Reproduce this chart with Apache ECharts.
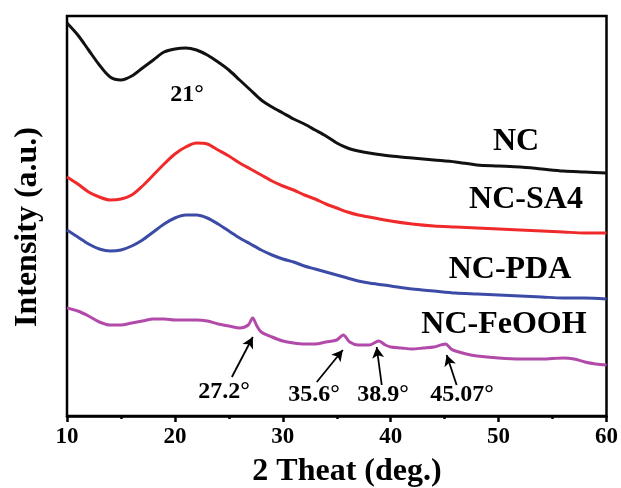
<!DOCTYPE html>
<html>
<head>
<meta charset="utf-8">
<script src="https://cdn.jsdelivr.net/npm/echarts@6/dist/echarts.min.js"></script>
<style>html,body{margin:0;padding:0;background:#fff;}#c{width:621px;height:488px;}</style>
</head>
<body>
<div id="c"></div>
<script>
// x positions (2θ, deg)
var xNC = [10,11,12,13,14,15,16,17,18,19,20,21,22,23,24,25,26,27,28,29,30,31,32,33,34,35,36,37,38,40,42,44,46,48,50,52,54,56,58,60];
var yNC = [98.25,95.25,91.5,87.75,84.75,84,85,87,89,91,91.75,92,91.5,90.25,88.5,86.5,84,81.5,79,77.25,75.75,74.25,73,71.5,70,68.25,67,66.25,65.75,65,64.5,64,63.5,62.75,62.5,62.25,61.75,61.25,61,60.75];
var ySA4 = [59.75,58,56,54.75,54,54.25,55.25,57.5,60.25,63,65.5,67.25,68.25,68,66.5,65,63.25,61.75,60.25,58.75,57.5,56.5,55.25,54.25,53,52,51,50.25,49.75,48.75,48,47.5,47.25,47,46.75,46.5,46.25,46,45.75,45.75];
var yPDA = [46.5,44.75,43,41.75,41.25,41.5,42.5,44,46,48,49.5,50.25,50.25,49.5,48,46.25,44.5,43,41.5,40.25,39.25,38.5,37.5,36.75,36,35.25,34.5,33.75,33.25,32.5,31.75,31.25,30.75,30.5,30.25,30,29.75,29.5,29.5,29.25];
var xFe = [10,11,12,13,14,15,16,17,18,19,20,21,22,23,24,25,26,26.8,27.2,27.6,28,29,30,31,32,33,34,35,35.6,36.2,37,38,38.9,39.5,40,41,42,43,44,45.07,45.6,46,47,48,50,52,54,56,57,58,59,60];
var yFe = [27,26.25,25,23.5,22.75,22.75,23.25,23.75,24.25,24.25,24,24,24,23.75,23,22.5,22,22.75,24.5,22.5,21,19.75,18.75,18.25,18,18,18.5,19,20.25,18.5,17.75,17.75,18.75,17.75,17.25,17,16.75,17,17.25,18,16.75,16.25,15.5,15,14.5,14.25,14.25,14.5,14.25,13.5,13,12.75];
var xTicks = [10,20,30,40,50,60];
var seriesNames = ['NC','NC-SA4','NC-PDA','NC-FeOOH'];
// arrows: [tailX, tailY, headX, headY]
var arrows = [[25.28,9.75,27.22,19.75],[33.15,8.5,35.56,16.5],[39.17,7.75,38.7,17.25],[46.11,7.75,45.19,15.25]];
var peakLabels = ['27.2°','35.6°','38.9°','45.07°'];

function pairs(xs, ys){ return xs.map(function(x,i){ return [x, ys[i]]; }); }
var FONT = '"Liberation Serif","Times New Roman",serif';
var chart = echarts.init(document.getElementById('c'));
var colors = ['#111111','#f02a2a','#3c4ca6','#b24aaa'];
var dataSets = [pairs(xNC,yNC), pairs(xNC,ySA4), pairs(xNC,yPDA), pairs(xFe,yFe)];
var series = dataSets.map(function(d,i){
  var s = {name: seriesNames[i], type:'line', data:d, symbol:'none', smooth:0.3,
    lineStyle:{color:colors[i], width:3}, z:2};
  if (i === 3) {
    s.markLine = {silent:true, symbol:['none','arrow'], symbolSize:[9,11],
      lineStyle:{color:'#000', width:1.8, type:'solid'}, label:{show:false},
      data: arrows.map(function(a){ return [{coord:[a[0],a[1]]},{coord:[a[2],a[3]]}]; })};
  }
  return s;
});
function txt(x,y,t,size,rot){
  return {type:'text', x:x, y:y, rotation:rot||0, style:{text:t, font:'bold '+size+'px '+FONT, fill:'#000', textAlign:'center', textVerticalAlign:'middle'}, z:10};
}
chart.setOption({
  animation:false,
  backgroundColor:'#fff',
  grid:{left:67, right:14, top:16, bottom:72, show:true, borderColor:'#000', borderWidth:2.5, backgroundColor:'transparent'},
  xAxis:{type:'value', min:10, max:60, interval:10,
    axisLine:{lineStyle:{color:'#000', width:2.5}},
    axisTick:{inside:false, length:6, lineStyle:{color:'#000', width:2.5}},
    minorTick:{show:true, splitNumber:2, length:3, lineStyle:{color:'#000', width:2.5}},
    splitLine:{show:false},
    axisLabel:{color:'#000', fontSize:23, fontWeight:'bold', fontFamily:FONT, margin:10,
      formatter:function(v){ return xTicks.indexOf(v)>=0 ? String(v) : ''; }}},
  yAxis:{type:'value', min:0, max:100, show:true, axisLine:{show:false}, axisTick:{show:false}, axisLabel:{show:false}, splitLine:{show:false}},
  series: series,
  graphic:[
    txt(347,472,'2 Theat (deg.)',32),
    txt(28,227,'Intensity (a.u.)',32,Math.PI/2),
    txt(187,95,'21°',24),
    txt(516,142,seriesNames[0],32),
    txt(526,200,seriesNames[1],32),
    txt(510,270,seriesNames[2],32),
    txt(504,325,seriesNames[3],32),
    txt(224,392,peakLabels[0],24),
    txt(314,395,peakLabels[1],24),
    txt(383,395,peakLabels[2],24),
    txt(462,395,peakLabels[3],24)
  ]
});
</script>
</body>
</html>
